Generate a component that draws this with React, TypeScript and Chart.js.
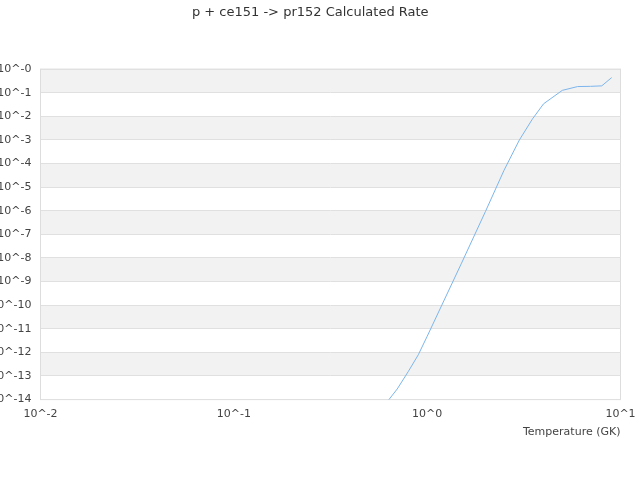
import React, { useEffect, useRef } from "react";
import { Chart, registerables } from "chart.js";
import type { ChartConfiguration, Plugin } from "chart.js";

Chart.register(...registerables);

// temperatures in GK and log10 of the rate
const temperatures = [0.6, 0.7, 0.8, 0.9, 1.0, 1.5, 2, 2.5, 3, 3.5, 4, 5, 6, 7, 8, 9];
const logRates = [
  -14.25, -13.55, -12.8, -12.1, -11.32, -8.25, -6.04, -4.28, -3.0, -2.12, -1.47, -0.9, -0.74,
  -0.73, -0.71, -0.36,
];
const xTicks = [-2, -1, 0, 1];
const yTicks = [0, -1, -2, -3, -4, -5, -6, -7, -8, -9, -10, -11, -12, -13, -14];

const TITLE = "p + ce151 -> pr152 Calculated Rate";
const X_TITLE = "Temperature (GK)";

// alternating grey bands plus a frame around the plot area
const bandsPlugin: Plugin<"line"> = {
  id: "bands",
  beforeDraw(chart) {
    const { ctx, chartArea, scales } = chart;
    const y = scales.y;
    ctx.save();
    ctx.fillStyle = "#f2f2f2";
    for (let i = 0; i < yTicks.length - 1; i += 2) {
      const top = y.getPixelForValue(yTicks[i]);
      const bottom = y.getPixelForValue(yTicks[i + 1]);
      ctx.fillRect(chartArea.left, top, chartArea.right - chartArea.left, bottom - top);
    }
    ctx.strokeStyle = "#dddddd";
    ctx.lineWidth = 1;
    ctx.strokeRect(
      chartArea.left,
      chartArea.top,
      chartArea.right - chartArea.left,
      chartArea.bottom - chartArea.top
    );
    ctx.restore();
  },
};

const RateChart: React.FC = () => {
  const canvasRef = useRef<HTMLCanvasElement | null>(null);

  useEffect(() => {
    const canvas = canvasRef.current;
    if (!canvas) return;
    const ctx = canvas.getContext("2d");
    if (!ctx) return;

    Chart.defaults.font.family = "'DejaVu Sans', sans-serif";

    const config: ChartConfiguration<"line", { x: number; y: number }[]> = {
      type: "line",
      data: {
        datasets: [
          {
            data: temperatures.map((t, i) => ({ x: Math.log10(t), y: logRates[i] })),
            borderColor: "#7cb5ec",
            borderWidth: 1,
            pointRadius: 0,
            tension: 0,
            fill: false,
          },
        ],
      },
      options: {
        responsive: false,
        animation: false,
        layout: { padding: { top: 0, right: 19.5, bottom: 37, left: 0 } },
        plugins: {
          legend: { display: false },
          tooltip: { enabled: false },
          title: {
            display: true,
            text: TITLE,
            color: "#333333",
            font: { size: 13, weight: "normal" },
            padding: { top: 5, bottom: 48.5 },
          },
        },
        scales: {
          x: {
            type: "linear",
            min: -2,
            max: 1,
            afterBuildTicks: (scale) => {
              scale.ticks = xTicks.map((v) => ({ value: v }));
            },
            afterFit: (scale) => {
              scale.paddingLeft = 0;
              scale.paddingRight = 0;
            },
            grid: { display: false, drawTicks: false },
            border: { display: false },
            ticks: {
              color: "#444444",
              font: { size: 11 },
              padding: 7.5,
              maxRotation: 0,
              callback: (v) => `10^${v}`,
            },
            title: {
              display: true,
              text: X_TITLE,
              align: "end",
              color: "#444444",
              font: { size: 11 },
              padding: { top: -2, bottom: 4 },
            },
          },
          y: {
            type: "linear",
            min: -14,
            max: 0,
            afterBuildTicks: (scale) => {
              scale.ticks = yTicks.map((v) => ({ value: v }));
            },
            afterFit: (scale) => {
              scale.width = 40.5;
            },
            grid: { color: "#e0e0e0", drawTicks: false },
            border: { display: false },
            ticks: {
              color: "#444444",
              font: { size: 11 },
              padding: 9,
              callback: (v) => `10^-${Math.abs(Number(v))}`,
            },
          },
        },
      },
      plugins: [bandsPlugin],
    };

    const chart = new Chart(ctx, config);
    return () => {
      chart.destroy();
    };
  }, []);

  return (
    <div style={{ position: "fixed", left: 0, top: 0, width: 640, height: 480 }}>
      <canvas ref={canvasRef} width={640} height={480}></canvas>
    </div>
  );
};

export default function App() {
  return <RateChart />;
}
